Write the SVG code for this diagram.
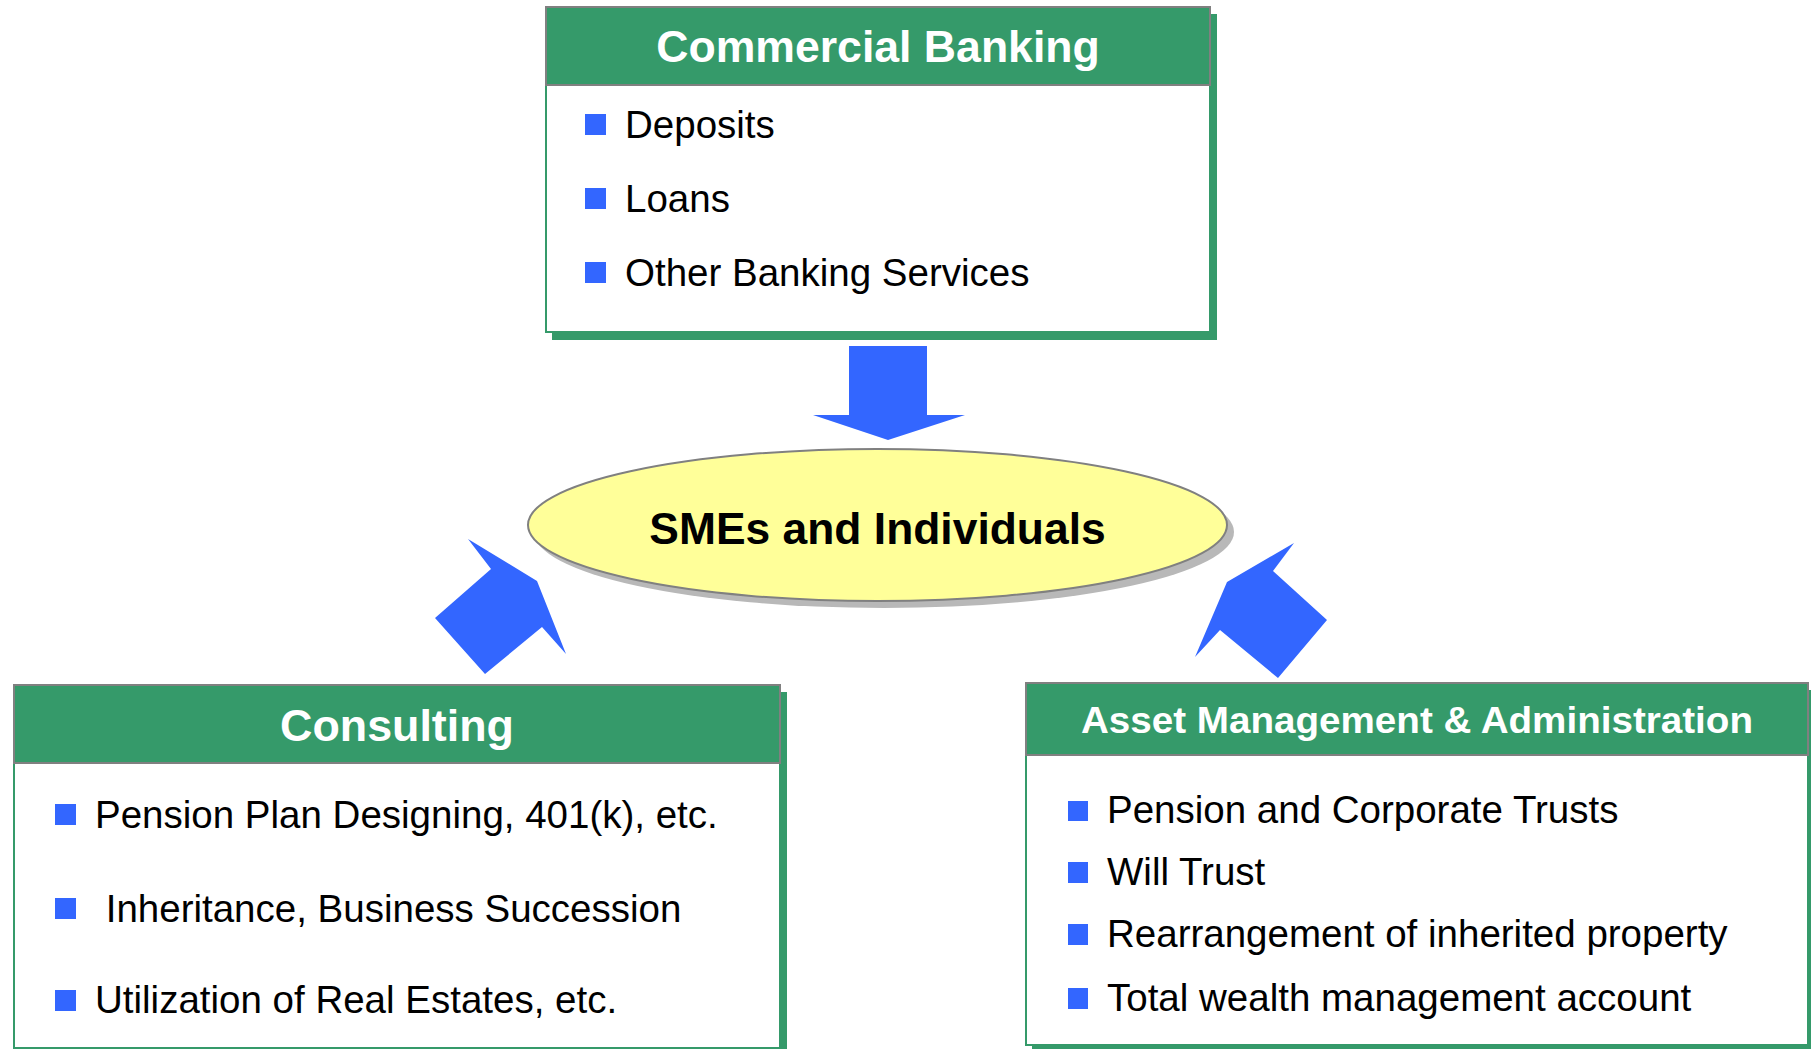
<svg xmlns="http://www.w3.org/2000/svg" width="1811" height="1049" viewBox="0 0 1811 1049">
<style>
.shadow{fill:#359A6A}
.body{fill:#ffffff;stroke:#359A6A;stroke-width:2}
.head{fill:#359A6A;stroke:#808080;stroke-width:2}
.title{font-family:"Liberation Sans",Arial,sans-serif;font-weight:bold;fill:#ffffff;text-anchor:middle}
.item{font-family:"Liberation Sans",Arial,sans-serif;font-size:38.5px;fill:#000000}
.bullet{fill:#3366FF}
.arrow{fill:#3366FF}
</style>
<rect width="1811" height="1049" fill="#ffffff"/>
<g id="connectors">
<polygon class="arrow" points="849,346 927,346 927,415 965,415 888,440 813,415 849,415"/>
<polygon class="arrow" points="537,581 566,654 542,627 485,674 435,618 491,569 468,539"/>
<polygon class="arrow" points="1227,582 1294,543 1273,571 1327,620 1278,678 1220,630 1195,657"/>
</g>
<g id="node-commercial-banking">
<rect class="shadow" x="552" y="14" width="665" height="326"/>
<rect class="body" x="546" y="7" width="664" height="325"/>
<rect class="head" x="546" y="7" width="664" height="78"/>
<text class="title" x="878" y="62" font-size="44.6">Commercial Banking</text>
<rect class="bullet" x="585" y="114" width="21" height="21"/>
<text class="item" x="625" y="138">Deposits</text>
<rect class="bullet" x="585" y="188" width="21" height="21"/>
<text class="item" x="625" y="212">Loans</text>
<rect class="bullet" x="585" y="262" width="21" height="21"/>
<text class="item" x="625" y="286">Other Banking Services</text>
</g>
<g id="node-smes">
<ellipse cx="884" cy="532" rx="350" ry="76" fill="#b8b8b8"/>
<ellipse cx="877.5" cy="525" rx="349.5" ry="76" fill="#ffff99" stroke="#808080" stroke-width="2"/>
<text x="877.5" y="544" font-family="'Liberation Sans',Arial,sans-serif" font-weight="bold" font-size="44.4" fill="#000000" text-anchor="middle">SMEs and Individuals</text>
</g>
<g id="node-consulting">
<rect class="shadow" x="21" y="692" width="766" height="365"/>
<rect class="body" x="14" y="685" width="766" height="363"/>
<rect class="head" x="14" y="685" width="766" height="78"/>
<text class="title" x="397" y="741" font-size="44.8">Consulting</text>
<rect class="bullet" x="55" y="804" width="21" height="21"/>
<text class="item" x="95" y="828">Pension Plan Designing, 401(k), etc.</text>
<rect class="bullet" x="55" y="898" width="21" height="21"/>
<text class="item" x="95" y="921.5" xml:space="preserve"> Inheritance, Business Succession</text>
<rect class="bullet" x="55" y="990" width="21" height="21"/>
<text class="item" x="95" y="1013">Utilization of Real Estates, etc.</text>
</g>
<g id="node-asset-management">
<rect class="shadow" x="1032" y="690" width="785" height="359"/>
<rect class="body" x="1026" y="683" width="782" height="362"/>
<rect class="head" x="1026" y="683" width="782" height="72"/>
<text class="title" x="1417" y="733" font-size="37.5" textLength="672" lengthAdjust="spacingAndGlyphs">Asset Management &amp; Administration</text>
<rect class="bullet" x="1068" y="801" width="20" height="20"/>
<text class="item" x="1107" y="823">Pension and Corporate Trusts</text>
<rect class="bullet" x="1068" y="862" width="20" height="21"/>
<text class="item" x="1107" y="885">Will Trust</text>
<rect class="bullet" x="1068" y="924" width="20" height="21"/>
<text class="item" x="1107" y="947">Rearrangement of inherited property</text>
<rect class="bullet" x="1068" y="988" width="20" height="21"/>
<text class="item" x="1107" y="1011">Total wealth management account</text>
</g>
</svg>
